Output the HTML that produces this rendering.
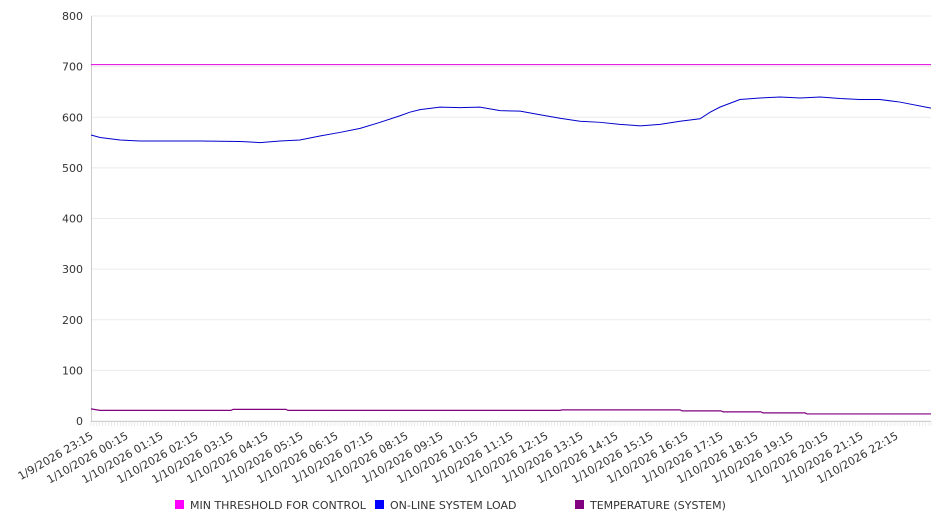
<!DOCTYPE html>
<html><head><meta charset="utf-8"><style>
body{margin:0;background:#fff;font-family:"DejaVu Sans","Liberation Sans",sans-serif;}
</style></head><body>
<svg id="c" width="946" height="526" xmlns="http://www.w3.org/2000/svg"></svg>
<script>
const hourLabels=["1/9/2026 23:15","1/10/2026 00:15","1/10/2026 01:15","1/10/2026 02:15","1/10/2026 03:15","1/10/2026 04:15","1/10/2026 05:15","1/10/2026 06:15","1/10/2026 07:15","1/10/2026 08:15","1/10/2026 09:15","1/10/2026 10:15","1/10/2026 11:15","1/10/2026 12:15","1/10/2026 13:15","1/10/2026 14:15","1/10/2026 15:15","1/10/2026 16:15","1/10/2026 17:15","1/10/2026 18:15","1/10/2026 19:15","1/10/2026 20:15","1/10/2026 21:15","1/10/2026 22:15"];
const yTicks=[0,100,200,300,400,500,600,700,800];
const thresholdValue=704;
const loadHours=[0,0.26,0.83,1.4,1.97,3.11,4.26,4.83,5.4,5.97,6.54,7.11,7.69,8.26,8.83,9.11,9.4,9.97,10.54,11.11,11.69,12.26,12.83,13.4,13.97,14.54,15.11,15.69,16.26,16.83,17.4,17.69,17.97,18.54,19.11,19.69,20.26,20.83,21.4,21.97,22.54,23.11,24];
const loadValues=[565,560,555,553,553,553,552,550,553,555,563,570,578,590,603,610,615,620,619,620,613,612,605,598,592,590,586,583,586,592,597,610,620,635,638,640,638,640,637,635,635,630,618];
const tempHours=[0,0.26,4.0,4.06,5.57,5.63,13.4,13.46,16.83,16.89,18.0,18.06,19.14,19.2,20.4,20.46,24];
const tempValues=[24,21,21,23,23,21,21,22,22,20,20,18,18,16,16,14,14];
const svg=document.getElementById('c');
const NS='http://www.w3.org/2000/svg';
const X0=91,X1=931,Y0=421,Y1=16;
const xs=h=>X0+h/24*(X1-X0);
const ys=v=>Y0-v/800*(Y0-Y1);
function mk(t,a){const e=document.createElementNS(NS,t);for(const k in a)e.setAttribute(k,a[k]);svg.appendChild(e);return e;}
yTicks.forEach(v=>{
 const g=mk('line',{x1:X0,x2:X1,y1:ys(v),y2:ys(v),stroke:'#ebebeb','stroke-width':1});
 
 
 const t=mk('text',{x:83,y:ys(v)+4,'text-anchor':'end','font-size':11,fill:'#333'});
 t.textContent=v;
 
 
});
const ax=mk('line',{x1:X0+0.5,x2:X0+0.5,y1:Y1,y2:Y0,stroke:'#ccc'});


const bx=mk('line',{x1:X0,x2:X1,y1:Y0+0.5,y2:Y0+0.5,stroke:'#ccc'});


for(let m=0;m<=24*60;m+=5){
 const tk=mk('line',{x1:xs(m/60),x2:xs(m/60),y1:Y0,y2:Y0+5,stroke:'#ddd','stroke-width':0.6});
 
 
}
hourLabels.forEach((l,i)=>{
 const x=xs(i)+3,y=Y0+17;
 const t=mk('text',{x:x,y:y,'text-anchor':'end','font-size':11,fill:'#333',transform:`rotate(-30 ${x} ${y})`});
 t.textContent=l;
 
 
});
const th=mk('line',{x1:X0,x2:X1,y1:ys(thresholdValue),y2:ys(thresholdValue),stroke:'#e000e0','stroke-width':1});


const lp=mk('polyline',{points:loadHours.map((h,i)=>xs(h)+','+ys(loadValues[i])).join(' '),fill:'none',stroke:'#0000cc','stroke-width':1});


const tp=mk('polyline',{points:tempHours.map((h,i)=>xs(h)+','+ys(tempValues[i])).join(' '),fill:'none',stroke:'#800080','stroke-width':1.2});


const leg=[["MIN THRESHOLD FOR CONTROL","#ff00ff",175],["ON-LINE SYSTEM LOAD","#0000ff",375],["TEMPERATURE (SYSTEM)","#800080",575]];
leg.forEach(([n,c,x])=>{
 const r=mk('rect',{x:x,y:500,width:9,height:9,fill:c});
 
 
 const t=mk('text',{x:x+15,y:509,'font-size':11,fill:'#333'});
 t.textContent=n;
 
 
});
</script>
</body></html>
